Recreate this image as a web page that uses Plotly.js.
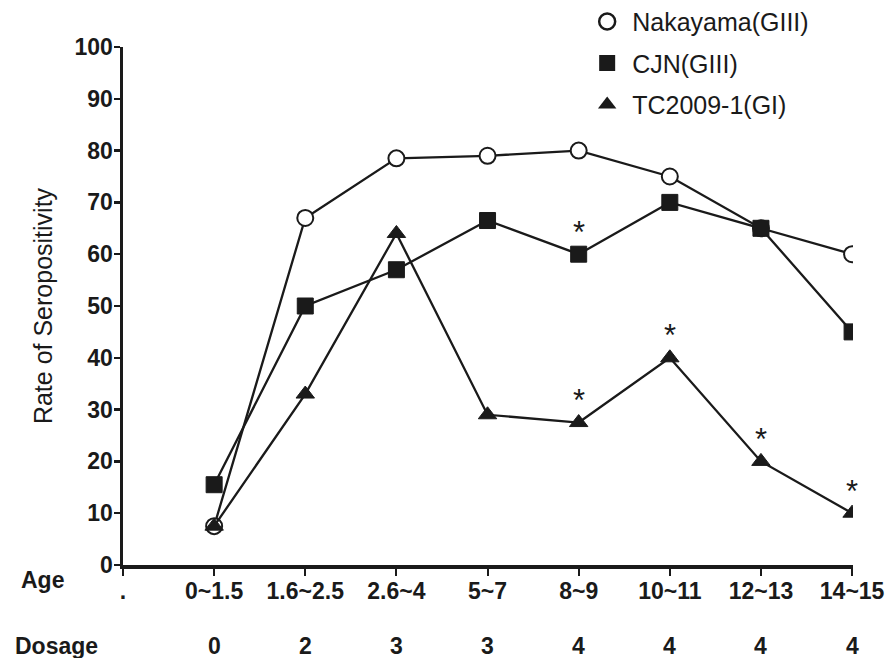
<!DOCTYPE html>
<html>
<head>
<meta charset="utf-8">
<script src="https://cdn.plot.ly/plotly-3.0.1.min.js"></script>
<style>html,body{margin:0;padding:0;background:#fff;}#chart{width:890px;height:658px;}</style>
</head>
<body>
<div id="chart"></div>
<script>
const ageLabels = ['.', '0~1.5', '1.6~2.5', '2.6~4', '5~7', '8~9', '10~11', '12~13', '14~15'];
const groups = ['0~1.5', '1.6~2.5', '2.6~4', '5~7', '8~9', '10~11', '12~13', '14~15'];
const dosage = ['0', '2', '3', '3', '4', '4', '4', '4'];
const nakayama = [7.5, 67, 78.5, 79, 80, 75, 65, 60];
const cjn = [15.5, 50, 57, 66.5, 60, 70, 65, 45];
const tc = [7.5, 33, 64, 29, 27.5, 40, 20, 10];
const cjnSig = [false, false, false, false, true, false, false, false];
const tcSig = [false, false, false, false, true, true, true, true];
const yTicks = [0, 10, 20, 30, 40, 50, 60, 70, 80, 90, 100];

const FONT = 'Liberation Sans, Arial, sans-serif';
const black = '#1a1a1a';

const traces = [
  {x: groups, y: nakayama, mode: 'lines+markers', name: 'Nakayama(GIII)', showlegend: false,
   line: {color: black, width: 2.3},
   marker: {symbol: 'circle', size: 16, color: '#fff', line: {color: black, width: 2}}},
  {x: groups, y: cjn, mode: 'lines+markers', name: 'CJN(GIII)', showlegend: false,
   line: {color: black, width: 2.3},
   marker: {symbol: 'square', size: 16, color: black, line: {color: black, width: 1}}},
  {x: groups, y: tc, mode: 'lines+markers', name: 'TC2009-1(GI)', showlegend: false,
   line: {color: black, width: 2.3},
   marker: {symbol: 'triangle-up', size: 16, color: black, line: {color: black, width: 1}}},
  // legend entries
  {x: [null], y: [null], mode: 'markers', name: 'Nakayama(GIII)', legendgroup: 'a',
   marker: {symbol: 'circle-open', size: 16, color: black, line: {color: black, width: 2.5}}},
  {x: [null], y: [null], mode: 'markers', name: 'CJN(GIII)', legendgroup: 'b',
   marker: {symbol: 'square', size: 16, color: black}},
  {x: [null], y: [null], mode: 'markers', name: 'TC2009-1(GI)', legendgroup: 'c',
   marker: {symbol: 'triangle-up', size: 17, color: black}}
];

const plotL = 123, plotW = 730;
const annotations = [];
groups.forEach((g, i) => {
  annotations.push({x: g, xref: 'x', y: 0, yref: 'paper', yanchor: 'middle', yshift: -81,
    text: dosage[i], showarrow: false, font: {family: FONT, size: 23, color: black, weight: 'bold'}});
  if (cjnSig[i]) annotations.push({x: g, y: cjn[i], xref: 'x', yref: 'y', yanchor: 'middle', yshift: 22,
    text: '*', showarrow: false, font: {family: FONT, size: 31, color: black}});
  if (tcSig[i]) annotations.push({x: g, y: tc[i], xref: 'x', yref: 'y', yanchor: 'middle', yshift: 22,
    text: '*', showarrow: false, font: {family: FONT, size: 31, color: black}});
});
annotations.push({x: (42 - plotL) / plotW, xref: 'paper', xanchor: 'center', y: 0, yref: 'paper', yanchor: 'middle', yshift: -15,
  text: 'Age', showarrow: false, font: {family: FONT, size: 23, color: black, weight: 'bold'}});
annotations.push({x: (56 - plotL) / plotW, xref: 'paper', xanchor: 'center', y: 0, yref: 'paper', yanchor: 'middle', yshift: -81,
  text: 'Dosage', showarrow: false, font: {family: FONT, size: 23, color: black, weight: 'bold'}});

const layout = {
  width: 890, height: 658,
  margin: {l: 123, r: 37, t: 47, b: 93, autoexpand: false},
  paper_bgcolor: '#fff', plot_bgcolor: '#fff',
  font: {family: FONT, color: black},
  showlegend: true,
  legend: {x: 0.629, xanchor: 'left', y: 1.093, yanchor: 'top', traceorder: 'grouped', tracegroupgap: 6,
    itemwidth: 40,
    font: {family: FONT, size: 25, color: black}, bgcolor: 'rgba(0,0,0,0)'},
  xaxis: {type: 'category', categoryorder: 'array', categoryarray: ageLabels,
    tickmode: 'array', tickvals: ageLabels, ticktext: ageLabels,
    range: [0, 8.01], showline: true, linewidth: 3.5, linecolor: black,
    ticks: 'outside', ticklen: 7, tickwidth: 2, tickcolor: black,
    ticklabelstandoff: -4,
    tickfont: {family: FONT, size: 23, color: black, weight: 'bold'},
    showgrid: false, zeroline: false, fixedrange: true},
  yaxis: {range: [0, 100], tickvals: yTicks, showline: true, linewidth: 3.5, linecolor: black,
    ticks: 'outside', ticklen: 6, tickwidth: 2.5, tickcolor: black,
    ticklabelstandoff: -4,
    tickfont: {family: FONT, size: 23, color: black, weight: 'bold'},
    showgrid: false, zeroline: false, fixedrange: true,
    title: {text: 'Rate of Seropositivity', standoff: 16, font: {family: FONT, size: 25, color: black}}},
  annotations: annotations
};

Plotly.newPlot('chart', traces, layout, {displayModeBar: false, staticPlot: true});
</script>
</body>
</html>
